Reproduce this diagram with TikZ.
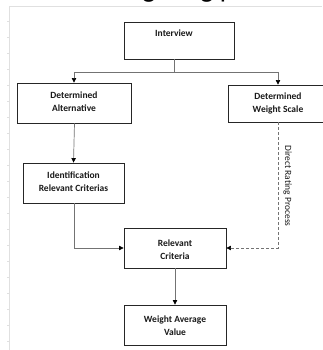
\documentclass[tikz,border=0pt]{standalone}
\usepackage{fontspec}
\setmainfont{Carlito}
\usetikzlibrary{arrows.meta}
\tikzset{
  box/.style={draw=black!85, line width=0.9pt, rectangle, inner sep=0pt},
  lbl/.style={font=\fontsize{9.5}{13}\selectfont\bfseries, align=center, inner sep=0pt, text=black!90},
  conn/.style={draw=black!55, line width=0.7pt},
  tip/.style={-{Triangle[length=4.5pt,width=4.5pt,color=black]}},
  frame/.style={draw=black!12, line width=0.6pt}
}
\begin{document}
\begin{tikzpicture}[x=1pt,y=-1pt]
\useasboundingbox (0,0) rectangle (322,350);
% page frame
\begin{scope}
\clip (0,0) rectangle (322,350);
\node[anchor=base west, inner sep=0pt, font=\fontsize{28}{30}\selectfont] (title) at (98,-2.5) {Weighting process};
\end{scope}
\draw[frame] (9,6) -- (322,6);
\draw[frame] (9,6) -- (9,350);
\foreach \t in {21,37,...,350} { \draw[frame] (7,\t) -- (9,\t); }
% boxes
\node[box, minimum width=110pt, minimum height=37pt] (int) at (179,40.5) {};
\node[lbl] (intt) at (174,33) {Interview};
\node[box, minimum width=114pt, minimum height=40pt] (alt) at (74,103) {};
\node[lbl] (altt) at (74,101.5) {Determined\\Alternative};
\node[box, minimum width=100pt, minimum height=37pt] (dws) at (278,103.5) {};
\node[lbl] (dwst) at (278,103) {Determined\\Weight Scale};
\node[box, minimum width=101pt, minimum height=40pt] (idt) at (73.5,183) {};
\node[lbl] (idtt) at (73.5,181.5) {Identification\\Relevant Criterias};
\node[box, minimum width=102pt, minimum height=40pt] (rc) at (175,248) {};
\node[lbl] (rct) at (175,249.5) {Relevant\\Criteria};
\node[box, minimum width=102pt, minimum height=40pt] (wav) at (175,325) {};
\node[lbl] (wavt) at (175,326) {Weight Average\\Value};
\node[rotate=-90, font=\fontsize{9.5}{11}\selectfont, inner sep=0pt, text=black!90] (drp) at (287.5,186) {Direct Rating Process};
% connectors
\coordinate (split) at (174,72);
\draw[conn] ([xshift=-5pt]int.south) -- (split);
\draw[conn, tip] (split) -| (alt.north);
\draw[conn, tip] (split) -| (dws.north);
\draw[conn, tip] ([xshift=0.5pt]alt.south) -- (idt.north);
\draw[conn, tip] ([xshift=0.5pt]idt.south) |- (rc.west);
\draw[conn, dashed, dash pattern=on 3pt off 2pt, tip] (dws.south) |- (rc.east);
\draw[conn, tip] (rc.south) -- (wav.north);
\end{tikzpicture}
\end{document}
